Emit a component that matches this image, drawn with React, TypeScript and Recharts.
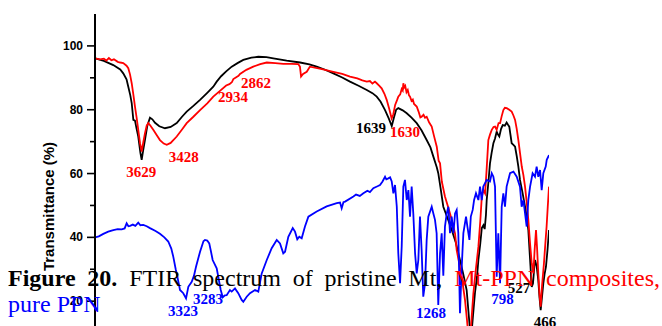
import React from "react";
import { LineChart, Line, XAxis, YAxis, ReferenceDot } from "recharts";

// Wavenumber (cm-1) / Transmittance (%) pairs
const mtSpectrum: [number, number][] = [
  [4000, 96.1], [3930, 95.3], [3855, 94.0], [3800, 92.6], [3776, 91.4], [3750, 89.5], [3736, 87.2],
  [3720, 84.5], [3709, 82.1], [3696, 76.8], [3683, 76.6], [3670, 74.0], [3657, 71.6], [3640, 66.5],
  [3630, 64.3], [3617, 67.5], [3604, 70.5], [3585, 75.0], [3564, 77.5], [3545, 77.0], [3524, 75.9],
  [3490, 74.8], [3445, 74.2], [3400, 74.6], [3352, 75.8], [3310, 77.8], [3273, 79.4], [3220, 81.2],
  [3167, 83.1], [3110, 85.3], [3062, 87.2], [3035, 88.8], [3000, 90.5], [2960, 92.0], [2916, 93.5],
  [2870, 94.6], [2824, 95.6], [2760, 96.3], [2705, 96.6], [2640, 96.5], [2586, 96.1], [2480, 95.4],
  [2374, 94.8], [2300, 94.2], [2242, 93.5], [2180, 92.6], [2110, 91.4], [2040, 90.1], [1978, 88.8],
  [1910, 87.5], [1845, 86.2], [1800, 85.2], [1766, 84.1], [1735, 82.5], [1700, 79.9], [1670, 77.2],
  [1647, 74.9], [1630, 77.5], [1612, 80.0], [1595, 80.5], [1560, 79.8], [1528, 78.9], [1490, 77.5],
  [1449, 75.8], [1410, 73.5], [1370, 70.5], [1340, 68.2], [1317, 65.3], [1290, 62.0], [1278, 60.1],
  [1260, 55.5], [1238, 49.6], [1200, 45.5], [1171, 42.3], [1140, 38.5], [1106, 32.9], [1080, 28.5],
  [1053, 23.5], [1035, 15.0], [1022, 9.0], [1010, 12.0], [995, 19.0], [987, 22.6], [970, 28.0],
  [960, 32.9], [945, 38.0], [933, 42.9], [920, 43.8], [910, 42.6], [900, 47.0], [894, 51.7],
  [880, 57.5], [868, 63.2], [855, 66.5], [841, 69.5], [828, 71.0], [815, 73.1], [804, 72.2],
  [794, 71.6], [780, 74.0], [767, 75.2], [750, 75.0], [736, 76.0], [725, 75.3], [715, 74.7],
  [705, 72.0], [696, 69.5], [682, 69.0], [669, 68.4], [656, 65.5], [643, 62.2], [630, 58.0],
  [610, 54.0], [590, 49.6], [577, 46.5], [564, 42.3], [550, 33.0], [537, 24.5], [527, 25.5],
  [518, 30.0], [511, 32.9], [498, 31.0], [485, 26.6], [475, 21.0], [466, 17.2], [455, 21.5],
  [445, 25.6], [435, 28.5], [424, 30.8], [412, 36.0], [400, 42.3],
];

const mtPpnSpectrum: [number, number][] = [
  [4000, 96.1], [3960, 95.8], [3930, 96.0], [3910, 95.4], [3890, 96.2], [3870, 95.5], [3850, 95.8],
  [3820, 95.0], [3800, 94.8], [3776, 94.6], [3750, 93.8], [3736, 93.0], [3722, 91.0], [3709, 88.3],
  [3695, 84.5], [3683, 81.0], [3670, 77.5], [3657, 73.7], [3643, 69.5], [3630, 66.9], [3617, 69.8],
  [3604, 72.6], [3590, 75.0], [3577, 75.8], [3560, 75.0], [3538, 73.7], [3510, 72.0], [3485, 70.5],
  [3455, 69.4], [3431, 69.0], [3400, 69.6], [3352, 71.6], [3310, 73.8], [3273, 75.8], [3220, 77.8],
  [3167, 79.9], [3110, 82.0], [3062, 84.1], [3009, 85.9], [2960, 87.6], [2934, 88.0], [2915, 88.6],
  [2903, 89.6], [2880, 90.2], [2862, 90.6], [2850, 91.2], [2800, 92.5], [2745, 93.5], [2690, 94.3],
  [2638, 94.8], [2570, 94.6], [2507, 94.4], [2440, 94.4], [2388, 94.3], [2375, 93.5], [2366, 90.4],
  [2350, 91.2], [2321, 91.9], [2300, 93.2], [2295, 93.5], [2200, 92.7], [2110, 91.9], [2040, 91.2],
  [1978, 90.4], [1920, 89.8], [1880, 89.2], [1845, 88.8], [1820, 89.0], [1800, 88.2], [1780, 88.8],
  [1766, 88.3], [1745, 87.5], [1727, 86.7], [1705, 85.0], [1687, 83.1], [1665, 80.0], [1648, 77.3],
  [1635, 78.5], [1620, 81.5], [1605, 83.0], [1595, 84.1], [1580, 84.8], [1568, 86.5], [1560, 86.0],
  [1555, 88.3], [1548, 87.0], [1540, 87.5], [1530, 85.5], [1520, 86.2], [1510, 84.5], [1502, 84.1],
  [1490, 82.8], [1480, 83.2], [1470, 81.8], [1449, 81.0], [1435, 79.5], [1420, 77.6], [1410, 77.8],
  [1395, 78.4], [1383, 77.5], [1370, 77.8], [1350, 76.0], [1330, 74.7], [1310, 71.5], [1290, 68.4],
  [1275, 64.0], [1264, 63.2], [1250, 57.5], [1225, 52.8], [1200, 49.5], [1185, 47.5], [1165, 44.5],
  [1145, 41.2], [1132, 36.0], [1092, 27.7], [1066, 20.3], [1050, 14.0], [1035, 7.0], [1025, 7.5],
  [1015, 14.0], [1000, 22.3], [980, 30.0], [960, 37.0], [945, 45.0], [933, 52.7], [920, 54.8],
  [907, 53.8], [895, 61.0], [881, 70.5], [868, 72.2], [854, 73.7], [840, 74.6], [828, 74.7],
  [815, 73.7], [800, 75.8], [788, 75.8], [775, 78.0], [762, 79.9], [750, 80.6], [735, 80.5],
  [715, 80.0], [696, 79.4], [682, 78.2], [669, 76.8], [656, 74.0], [643, 70.5], [630, 66.5],
  [616, 62.2], [603, 59.5], [590, 55.9], [577, 51.0], [564, 45.5], [550, 38.0], [537, 31.9],
  [524, 28.7], [514, 36.0], [503, 42.3], [495, 37.0], [485, 28.7], [475, 22.0], [466, 18.3],
  [455, 25.0], [440, 31.9], [430, 37.5], [419, 43.4], [410, 49.5], [400, 55.9],
];

const ppnSpectrum: [number, number][] = [
  [4000, 40.0], [3970, 40.3], [3934, 41.1], [3895, 41.8], [3855, 42.3], [3820, 42.6], [3788, 42.5],
  [3765, 42.8], [3749, 44.4], [3735, 43.5], [3722, 43.6], [3700, 44.0], [3680, 43.6], [3657, 44.6],
  [3640, 43.8], [3617, 43.9], [3590, 43.5], [3564, 42.9], [3520, 42.0], [3485, 41.1], [3450, 40.0],
  [3419, 38.7], [3395, 36.5], [3379, 33.9], [3360, 30.0], [3347, 27.7], [3326, 23.5], [3300, 22.5],
  [3278, 20.9], [3260, 24.5], [3233, 26.1], [3215, 28.0], [3199, 30.8], [3167, 35.5], [3140, 38.8],
  [3128, 39.2], [3110, 39.0], [3094, 38.1], [3080, 35.5], [3067, 32.9], [3035, 30.3], [3003, 23.5],
  [2987, 21.2], [2970, 21.8], [2956, 21.9], [2930, 23.5], [2916, 23.0], [2890, 24.0], [2864, 22.5],
  [2837, 20.4], [2824, 19.8], [2797, 21.4], [2771, 22.5], [2731, 23.5], [2705, 23.0], [2678, 28.7],
  [2638, 32.9], [2599, 36.6], [2559, 39.2], [2533, 38.1], [2507, 35.0], [2493, 35.5], [2467, 40.2],
  [2432, 42.9], [2414, 41.8], [2396, 39.4], [2380, 40.2], [2361, 39.7], [2335, 43.4], [2308, 46.5],
  [2242, 48.1], [2163, 49.7], [2083, 50.7], [2057, 50.9], [2044, 49.1], [2030, 51.0], [2017, 51.2],
  [1951, 52.8], [1930, 53.4], [1900, 53.0], [1872, 53.8], [1840, 54.6], [1820, 54.2], [1793, 55.4],
  [1760, 56.0], [1740, 56.4], [1720, 57.5], [1700, 59.0], [1690, 58.2], [1674, 58.5], [1660, 58.8],
  [1647, 57.5], [1634, 53.8], [1621, 56.4], [1607, 49.6], [1595, 35.0], [1581, 25.6], [1568, 37.1],
  [1555, 55.9], [1542, 58.0], [1528, 51.7], [1515, 54.8], [1502, 46.5], [1489, 55.9], [1476, 47.5],
  [1462, 35.0], [1449, 28.7], [1436, 32.9], [1423, 46.5], [1410, 36.0], [1397, 21.4], [1383, 25.6],
  [1370, 39.2], [1357, 46.5], [1330, 49.6], [1317, 47.5], [1304, 45.5], [1291, 41.3], [1278, 18.8],
  [1264, 35.0], [1251, 41.3], [1238, 28.0], [1225, 43.4], [1211, 47.5], [1198, 49.6], [1185, 41.3],
  [1172, 46.5], [1158, 41.3], [1145, 47.5], [1132, 48.6], [1119, 41.3], [1106, 16.2], [1092, 30.8],
  [1079, 41.3], [1058, 46.5], [1047, 43.4], [1031, 39.2], [1020, 46.5], [1005, 48.6], [994, 51.7],
  [979, 53.8], [960, 51.7], [947, 55.9], [933, 51.7], [921, 55.9], [894, 58.0], [868, 57.5],
  [854, 60.1], [841, 59.0], [828, 55.9], [815, 27.7], [802, 41.3], [788, 25.6], [775, 49.6],
  [762, 53.8], [749, 49.6], [736, 55.9], [709, 60.1], [682, 60.6], [656, 59.0], [630, 55.9],
  [617, 49.6], [603, 51.7], [590, 47.5], [577, 43.4], [564, 51.7], [550, 55.9], [530, 60.1],
  [511, 59.0], [498, 62.2], [485, 59.0], [471, 61.1], [458, 54.8], [445, 60.1], [426, 62.2],
  [418, 64.3], [400, 65.8],
];

// Peak annotations: text, anchor wavenumber, anchor transmittance, series
const peakLabels: [string, number, number, string][] = [
  ["3629", 3633, 59.0, "mtppn"],
  ["3428", 3296, 63.7, "mtppn"],
  ["2934", 2906, 82.5, "mtppn"],
  ["2862", 2723, 86.9, "mtppn"],
  ["1639", 1811, 72.8, "mt"],
  ["1630", 1542, 71.6, "mtppn"],
  ["3323", 3302, 15.5, "ppn"],
  ["3283", 3104, 19.1, "ppn"],
  ["1268", 1336, 14.6, "ppn"],
  ["798", 769, 19.1, "ppn"],
  ["527", 638, 22.5, "mt"],
  ["466", 431, 11.9, "mt"],
];

const yTicks = [10, 20, 30, 40, 50, 60, 70, 80, 90, 100];
const yMajorTicks = [20, 40, 60, 80, 100];

const COLORS: Record<string, string> = { mt: "#000000", mtppn: "#ff0000", ppn: "#0000ff" };

const toRows = (arr: [number, number][]) => arr.map(([wn, t]) => ({ wn, t }));
const mtData = toRows(mtSpectrum);
const mtPpnData = toRows(mtPpnSpectrum);
const ppnData = toRows(ppnSpectrum);

const TICK_SIZE = 8;
const TICK_MARGIN = 4;

const YTick = (props: any) => {
  const { x, y, payload } = props;
  const axisX = x + TICK_SIZE + TICK_MARGIN;
  const major = yMajorTicks.includes(payload.value);
  const len = major ? 8 : 5;
  return (
    <g>
      <line x1={axisX - len} x2={axisX} y1={y} y2={y} stroke="#000" strokeWidth={1.6} />
      {major && (
        <text
          x={x}
          y={y}
          textAnchor="end"
          dominantBaseline="central"
          fontFamily="'Liberation Sans', Arial, sans-serif"
          fontWeight="bold"
          fontSize={12}
          fill="#000"
        >
          {payload.value}
        </text>
      )}
    </g>
  );
};

const YLabel = (props: any) => {
  const vb = props.viewBox || {};
  const cx = vb.x + 13;
  const cy = vb.y + vb.height / 2 + 17;
  return (
    <text
      x={cx}
      y={cy}
      transform={`rotate(-90, ${cx}, ${cy})`}
      textAnchor="middle"
      dominantBaseline="central"
      fontFamily="'Liberation Sans', Arial, sans-serif"
      fontWeight="bold"
      fontSize={15}
      fill="#000"
    >
      Transmittance (%)
    </text>
  );
};

const makePeakShape = (text: string, color: string) => (p: any) => (
  <text
    x={p.cx}
    y={p.cy}
    textAnchor="middle"
    fontFamily="'Liberation Serif', 'Times New Roman', serif"
    fontWeight="bold"
    fontSize={15}
    fill={color}
  >
    {text}
  </text>
);

const serif = "'Liberation Serif', 'Times New Roman', serif";

export default function App() {
  return (
    <div style={{ position: "absolute", left: 0, top: 0, width: 662, height: 326, overflow: "hidden", background: "#fff" }}>
      <div style={{ position: "absolute", left: 0, top: 0 }}>
        <LineChart width={662} height={380} margin={{ top: 14, right: 113, bottom: 15, left: 35 }}>
          <XAxis
            type="number"
            dataKey="wn"
            domain={[400, 4000]}
            reversed
            hide
            allowDataOverflow
          />
          <YAxis
            type="number"
            domain={[0, 110]}
            ticks={yTicks}
            width={60}
            tickSize={TICK_SIZE}
            tickMargin={TICK_MARGIN}
            tickLine={false}
            tick={<YTick />}
            axisLine={{ stroke: "#000", strokeWidth: 2 }}
            allowDataOverflow
            label={{ content: <YLabel /> }}
          />
          <Line data={mtData} dataKey="t" type="linear" stroke={COLORS.mt} strokeWidth={1.8} dot={false} isAnimationActive={false} />
          <Line data={mtPpnData} dataKey="t" type="linear" stroke={COLORS.mtppn} strokeWidth={1.8} dot={false} isAnimationActive={false} />
          <Line data={ppnData} dataKey="t" type="linear" stroke={COLORS.ppn} strokeWidth={1.8} dot={false} isAnimationActive={false} />
          {peakLabels.map(([text, wn, t, s]) => (
            <ReferenceDot key={text} x={wn} y={t} r={1} shape={makePeakShape(text, COLORS[s])} />
          ))}
        </LineChart>
      </div>
      <div
        style={{
          position: "absolute",
          left: 8,
          top: 265,
          width: 652,
          fontFamily: serif,
          fontSize: 24,
          lineHeight: "26px",
          color: "#000",
          textAlign: "justify",
          textAlignLast: "justify" as any,
        }}
      >
        <b>Figure 20.</b> FTIR spectrum of pristine Mt, <span style={{ color: "#ff0000" }}>Mt-PPN composites,</span>
      </div>
      <div
        style={{
          position: "absolute",
          left: 8,
          top: 291,
          fontFamily: serif,
          fontSize: 24,
          lineHeight: "26px",
          color: "#0000ff",
        }}
      >
        pure PPN
      </div>
    </div>
  );
}
